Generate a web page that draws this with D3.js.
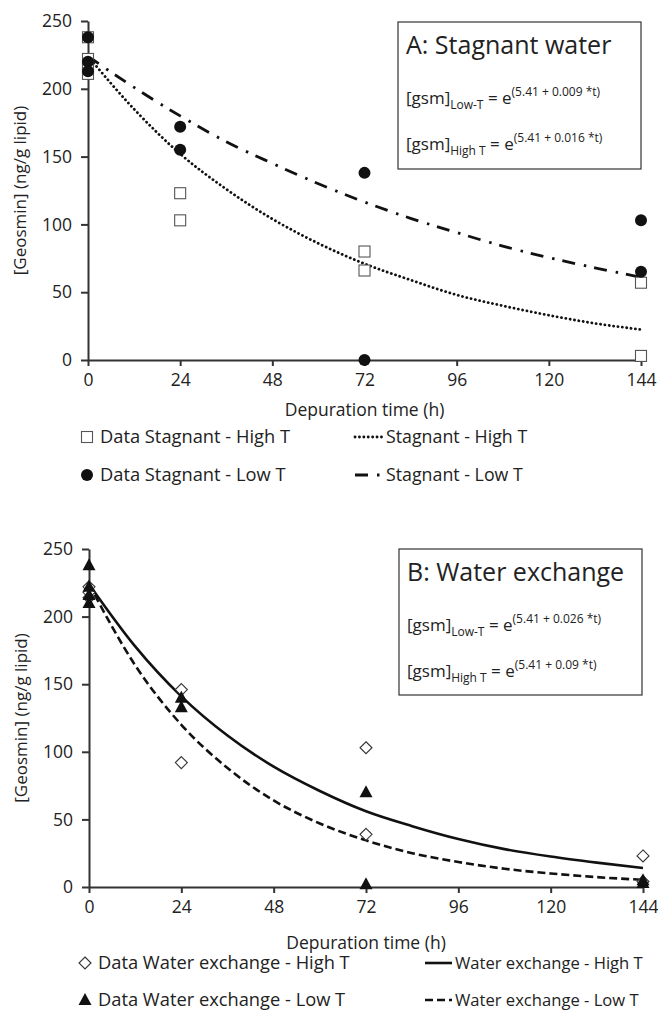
<!DOCTYPE html>
<html>
<head>
<meta charset="utf-8">
<script src="https://cdn.jsdelivr.net/npm/d3@7/dist/d3.min.js"></script>
<style>
  body { margin: 0; background: #fff; }
  text { font-family: "Open Sans", sans-serif; fill: #222; }
</style>
</head>
<body>
<script>
const width = 658, height = 1013;

const xTicks = [0, 24, 48, 72, 96, 120, 144];
const yTicks = [0, 50, 100, 150, 200, 250];

// measured points, panel A (stagnant)
const stagHighT = [[0, 238], [0, 222], [0, 216], [0, 211], [24, 123], [24, 103], [72, 80], [72, 66], [144, 57], [144, 3]];
const stagLowT = [[0, 238], [0, 220], [0, 213], [24, 172], [24, 155], [72, 138], [72, 0], [144, 103], [144, 65]];
// measured points, panel B (water exchange)
const exchHighT = [[0, 222], [0, 218], [0, 214], [24, 146], [24, 92], [72, 103], [72, 39], [144, 23], [144, 4]];
const exchLowT = [[0, 238], [0, 222], [0, 216], [0, 210], [24, 140], [24, 133], [72, 70], [72, 2], [144, 3], [144, 5]];

// fitted curves every 12 h
const curveTimes = [0, 12, 24, 36, 48, 60, 72, 84, 96, 108, 120, 132, 144];
const fitStagHighT = [224, 185, 152, 126, 104, 86, 71, 59, 48, 40, 33, 27, 22.5];
const fitStagLowT = [224, 201, 180, 161, 145, 130, 116.5, 104.5, 94, 84, 75.5, 68, 61];
const fitExchHighT = [224, 178, 141, 112, 89, 71, 56, 45, 35.5, 28, 22.5, 18, 14];
const fitExchLowT = [224, 164, 120, 88, 64, 47, 34.5, 25, 18.5, 13.5, 10, 7.3, 5.3];

const svg = d3.select("body").append("svg")
  .attr("width", width)
  .attr("height", height);

const lineStyles = {
  dotted: { dash: "0.1,4.3", width: 2.8, cap: "round" },
  dashdot: { dash: "13,9,2.5,8", width: 2.8, cap: "butt" },
  solid: { dash: null, width: 2.6, cap: "butt" },
  dashed: { dash: "8,4", width: 2.6, cap: "butt" }
};

function marker(g, kind, x, y) {
  if (kind == "square") {
    g.append("rect").attr("x", x - 5.5).attr("y", y - 5.5).attr("width", 11).attr("height", 11)
      .attr("fill", "#fff").attr("stroke", "#555").attr("stroke-width", 1.1);
  } else if (kind == "circle") {
    g.append("circle").attr("cx", x).attr("cy", y).attr("r", 6).attr("fill", "#111");
  } else if (kind == "diamond") {
    g.append("path").attr("d", `M${x},${y - 6}L${x + 6},${y}L${x},${y + 6}L${x - 6},${y}Z`)
      .attr("fill", "#fff").attr("stroke", "#333").attr("stroke-width", 1.1);
  } else {
    g.append("path").attr("d", `M${x},${y - 7}L${x + 6.5},${y + 5}L${x - 6.5},${y + 5}Z`).attr("fill", "#111");
  }
}

function panel(cfg) {
  const x = d3.scaleLinear().domain([0, 144]).range([cfg.left, cfg.right]);
  const y = d3.scaleLinear().domain([0, 250]).range([cfg.bottom, cfg.top]);
  const g = svg.append("g");

  // curves
  for (const c of cfg.curves) {
    const st = lineStyles[c.style];
    g.append("path")
      .datum(curveTimes.map((t, i) => [t, c.values[i]]))
      .attr("fill", "none")
      .attr("stroke", "#111")
      .attr("stroke-width", st.width)
      .attr("stroke-linecap", st.cap)
      .attr("stroke-dasharray", st.dash)
      .attr("d", d3.line().x(d => x(d[0])).y(d => y(d[1])).curve(d3.curveMonotoneX));
  }

  // axes
  const ax = g.append("g").attr("transform", `translate(0,${cfg.bottom})`)
    .call(d3.axisBottom(x).tickValues(xTicks).tickSize(6).tickPadding(8).tickSizeOuter(0));
  const ay = g.append("g").attr("transform", `translate(${cfg.left},0)`)
    .call(d3.axisLeft(y).tickValues(yTicks).tickSize(7).tickPadding(9).tickSizeOuter(0));
  for (const a of [ax, ay]) {
    a.select(".domain").attr("stroke", "#333").attr("stroke-width", 2);
    a.selectAll(".tick line").attr("stroke", "#333").attr("stroke-width", 2);
    a.selectAll(".tick text").attr("font-size", 17.5).attr("font-family", "Open Sans").attr("fill", "#222");
  }

  // points
  for (const s of cfg.series) {
    for (const p of s.values) marker(g, s.marker, x(p[0]), y(p[1]));
  }

  g.append("text")
    .attr("transform", `translate(${cfg.left - 68},${(cfg.top + cfg.bottom) / 2}) rotate(-90)`)
    .attr("text-anchor", "middle").attr("dy", "0.35em")
    .attr("font-size", 17)
    .text("[Geosmin] (ng/g lipid)");

  g.append("text")
    .attr("x", (cfg.left + cfg.right) / 2).attr("y", cfg.bottom + cfg.labelDy)
    .attr("text-anchor", "middle").attr("dy", "0.35em").attr("font-size", 17.5)
    .text("Depuration time (h)");

  // info box
  const b = cfg.box;
  g.append("rect").attr("x", b.x).attr("y", b.y).attr("width", b.w).attr("height", b.h)
    .attr("fill", "#fff").attr("stroke", "#333").attr("stroke-width", 1.2);
  g.append("text").attr("x", b.x + 8).attr("y", b.y + 32).attr("font-size", 25).text(cfg.title);
  cfg.eqs.forEach((e, i) => {
    const t = g.append("text").attr("x", b.x + 8).attr("y", b.y + 82 + i * 46).attr("font-size", 17);
    t.append("tspan").text("[gsm]");
    t.append("tspan").attr("font-size", 12).attr("dy", 5).text(e.sub);
    t.append("tspan").attr("dy", -5).text(" = e");
    t.append("tspan").attr("font-size", 12).attr("dy", -8).text(e.sup);
  });

  // legend
  cfg.legend.forEach((l, i) => {
    const col = i % 2, row = Math.floor(i / 2);
    const lx = cfg.legendX[col], ly = cfg.bottom + cfg.legendDy[row];
    if (l.marker) {
      marker(g, l.marker, lx + 6, ly);
      g.append("text").attr("x", lx + 19).attr("y", ly).attr("dy", "0.35em").attr("font-size", 18.3).text(l.label);
    } else {
      const st = lineStyles[l.style];
      g.append("line").attr("x1", lx).attr("x2", lx + l.len).attr("y1", ly).attr("y2", ly)
        .attr("stroke", "#111").attr("stroke-width", st.width).attr("stroke-linecap", st.cap)
        .attr("stroke-dasharray", st.dash);
      g.append("text").attr("x", lx + l.len + 3).attr("y", ly).attr("dy", "0.35em")
        .attr("font-size", cfg.lineLabelSize).text(l.label);
    }
  });
}

panel({
  left: 88, right: 641, top: 21, bottom: 360,
  labelDy: 50, legendDy: [77, 115], lineLabelSize: 17.8,
  curves: [{ values: fitStagHighT, style: "dotted" }, { values: fitStagLowT, style: "dashdot" }],
  series: [{ values: stagHighT, marker: "square" }, { values: stagLowT, marker: "circle" }],
  box: { x: 398, y: 22, w: 243, h: 147 },
  title: "A: Stagnant water",
  eqs: [{ sub: "Low-T", sup: "(5.41 + 0.009 *t)" }, { sub: "High T", sup: "(5.41 + 0.016 *t)" }],
  legendX: [81, 355],
  legend: [
    { marker: "square", label: "Data Stagnant - High T" },
    { style: "dotted", len: 28, label: "Stagnant - High T" },
    { marker: "circle", label: "Data Stagnant - Low T" },
    { style: "dashdot", len: 28, label: "Stagnant - Low T" }
  ]
});

panel({
  left: 89, right: 643, top: 549, bottom: 887,
  labelDy: 56, legendDy: [76, 113], lineLabelSize: 16.6,
  curves: [{ values: fitExchHighT, style: "solid" }, { values: fitExchLowT, style: "dashed" }],
  series: [{ values: exchHighT, marker: "diamond" }, { values: exchLowT, marker: "triangle" }],
  box: { x: 399, y: 549, w: 243, h: 146 },
  title: "B: Water exchange",
  eqs: [{ sub: "Low-T", sup: "(5.41 + 0.026 *t)" }, { sub: "High T", sup: "(5.41 + 0.09 *t)" }],
  legendX: [79, 425],
  legend: [
    { marker: "diamond", label: "Data Water exchange - High T" },
    { style: "solid", len: 27, label: "Water exchange - High T" },
    { marker: "triangle", label: "Data Water exchange - Low T" },
    { style: "dashed", len: 27, label: "Water exchange - Low T" }
  ]
});
</script>
</body>
</html>
